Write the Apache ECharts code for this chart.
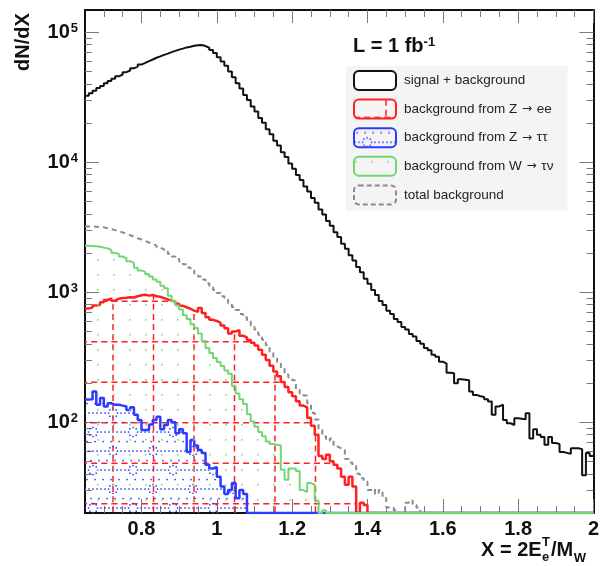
<!DOCTYPE html>
<html>
<head>
<meta charset="utf-8">
<script src="https://cdn.jsdelivr.net/npm/echarts@6/dist/echarts.min.js"></script>
<style>
  html, body { margin: 0; padding: 0; background: #fff; }
  #chart { width: 602px; height: 566px; }
</style>
</head>
<body>
<div id="chart"></div>
<script>
// Histogram binning: 135 bins of width 0.01 starting at X = 0.65
const BIN_LOW = 0.65;
const BIN_WIDTH = 0.01;
const X_MIN = 0.65, X_MAX = 2.0;
const Y_MIN = 20, Y_MAX = 148000;

const xMajorTicks = [0.8, 1.0, 1.2, 1.4, 1.6, 1.8, 2.0];
const xMinorTicks = [0.7, 0.75, 0.85, 0.9, 0.95, 1.05, 1.1, 1.15, 1.25, 1.3, 1.35, 1.45, 1.5, 1.55,
                     1.65, 1.7, 1.75, 1.85, 1.9, 1.95];
const yMajorTicks = [100, 1000, 10000, 100000];
const yMinorTicks = [30, 40, 50, 60, 70, 80, 90, 200, 300, 400, 500, 600, 700, 800, 900,
                     2000, 3000, 4000, 5000, 6000, 7000, 8000, 9000,
                     20000, 30000, 40000, 50000, 60000, 70000, 80000, 90000];

// Entries per bin (0 = empty bin, drawn on the lower frame edge)
const signalPlusBackground = [
  32400, 33900, 35400, 37200, 38600, 40500, 42000, 43800, 45700, 47200,
  49200, 50700, 52700, 54300, 56300, 58000, 59900, 61600, 63500, 65100,
  66900, 68400, 70200, 71700, 73400, 74700, 76300, 77300, 78600, 79300,
  79500, 78100, 75800, 72900, 69000, 64000, 59400, 55100, 49700, 45000,
  40500, 36800, 32900, 30100, 26800, 24500, 21900, 20100, 17900, 16400,
  14600, 13400, 11900, 10950, 9750, 8900, 7950, 7280, 6500, 5950,
  5300, 4860, 4330, 3960, 3520, 3240, 2890, 2650, 2360, 2160,
  1920, 1750, 1560, 1420, 1270, 1160, 1040, 950, 855, 795,
  720, 680, 622, 590, 540, 516, 476, 455, 420, 400,
  372, 358, 330, 318, 292, 282, 240, 238, 199, 214,
  212, 210, 172, 162, 158, 156, 150, 144, 114, 132,
  136, 104, 98, 95, 107, 106, 105, 117, 75, 88,
  80, 77, 67, 77, 69, 68, 59, 58, 57, 63,
  63, 62, 39, 58, 55
];
const bkgZee = [
  750, 760, 790, 800, 835, 870, 895, 860, 890, 900,
  905, 915, 910, 930, 945, 955, 940, 950, 930, 920,
  900, 880, 860, 845, 815, 785, 765, 745, 720, 705,
  755, 690, 640, 612, 600, 580, 555, 528, 480, 498,
  510, 462, 448, 428, 408, 388, 360, 330, 300, 272,
  245, 225, 204, 186, 170, 158, 145, 134, 130, 108,
  94, 80, 55, 52, 56, 50, 47, 44, 38, 33,
  38, 32, 0, 24, 23, 0, 0, 0, 0, 0,
  0, 0, 0, 0, 0, 0, 0, 0, 0, 0,
  0, 0, 0, 0, 0, 0, 0, 0, 0, 0,
  0, 0, 0, 0, 0, 0, 0, 0, 0, 0,
  0, 0, 0, 0, 0, 0, 0, 0, 0, 0,
  0, 0, 0, 0, 0, 0, 0, 0, 0, 0,
  0, 0, 0, 0, 0
];
const bkgZtautau = [
  149, 150, 172, 136, 153, 132, 140, 136, 136, 134,
  132, 124, 130, 114, 104, 87, 87, 96, 104, 110,
  88, 95, 104, 100, 82, 88, 82, 59, 73, 66,
  61, 58, 47, 44, 45, 38, 32, 28, 30, 34,
  26, 30, 28, 0, 0, 0, 0, 0, 0, 0,
  0, 0, 0, 0, 0, 0, 0, 0, 0, 0,
  0, 0, 0, 0, 0, 0, 0, 0, 0, 0,
  0, 0, 0, 0, 0, 0, 0, 0, 0, 0,
  0, 0, 0, 0, 0, 0, 0, 0, 0, 0,
  0, 0, 0, 0, 0, 0, 0, 0, 0, 0,
  0, 0, 0, 0, 0, 0, 0, 0, 0, 0,
  0, 0, 0, 0, 0, 0, 0, 0, 0, 0,
  0, 0, 0, 0, 0, 0, 0, 0, 0, 0,
  0, 0, 0, 0, 0
];
const bkgWtaunu = [
  2270, 2260, 2250, 2230, 2200, 2170, 2110, 2010, 1960, 1880,
  1820, 1730, 1680, 1540, 1470, 1430, 1380, 1320, 1250, 1200,
  1120, 1070, 940, 860, 790, 735, 665, 620, 565, 530,
  480, 420, 372, 340, 312, 290, 270, 250, 236, 190,
  166, 150, 138, 115, 101, 92, 84, 78, 71, 68,
  67, 66, 43, 36, 44, 44, 42, 30, 29, 34,
  33, 25, 0, 21, 0, 0, 0, 0, 0, 0,
  0, 0, 0, 0, 0, 0, 0, 0, 0, 0,
  0, 0, 0, 0, 0, 0, 0, 0, 0, 0,
  0, 0, 0, 0, 0, 0, 0, 0, 0, 0,
  0, 0, 0, 0, 0, 0, 0, 0, 0, 0,
  0, 0, 0, 0, 0, 0, 0, 0, 0, 0,
  0, 0, 0, 0, 0, 0, 0, 0, 0, 0,
  0, 0, 0, 0, 0
];
const totalBackground = [
  3200, 3200, 3190, 3170, 3150, 3100, 3050, 3000, 2940, 2880,
  2810, 2740, 2670, 2600, 2540, 2480, 2410, 2350, 2280, 2200,
  2130, 2050, 1970, 1880, 1800, 1720, 1640, 1550, 1470, 1390,
  1320, 1250, 1170, 1100, 1040, 985, 930, 875, 820, 770,
  730, 680, 640, 598, 555, 515, 470, 430, 390, 350,
  318, 290, 256, 232, 220, 210, 180, 166, 160, 140,
  118, 105, 87, 78, 72, 75, 65, 63, 62, 52,
  49, 46, 40, 37, 35, 30, 31, 28, 30, 26,
  22, 22, 21, 0, 0, 24, 25, 23, 22, 0,
  0, 0, 0, 0, 0, 0, 0, 0, 0, 0,
  0, 0, 0, 0, 0, 0, 0, 0, 0, 0,
  0, 0, 0, 0, 0, 0, 0, 0, 0, 0,
  0, 0, 0, 0, 0, 0, 0, 0, 0, 0,
  0, 0, 0, 0, 0
];

const NAME_SIG = 'signal + background';
const NAME_ZEE = 'background from Z \u2192 ee';
const NAME_ZTT = 'background from Z \u2192 \u03c4\u03c4';
const NAME_WTN = 'background from W \u2192 \u03c4\u03bd';
const NAME_TOT = 'total background';

const FONT = '"Liberation Sans", Arial, Helvetica, sans-serif';
const RED = '#ff2020', BLUE = '#2a3cff', GREEN = '#72d672', GRAY = '#8c8c8c', BLACK = '#111111';

// Step outline: one point per lower bin edge plus the closing upper edge.
function histPoints(vals) {
  const pts = vals.map((v, i) => [+(BIN_LOW + i * BIN_WIDTH).toFixed(2), Math.max(v, Y_MIN)]);
  pts.push([+(BIN_LOW + vals.length * BIN_WIDTH).toFixed(2), Math.max(vals[vals.length - 1], Y_MIN)]);
  return pts;
}

// Fill patterns (canvas tiles)
function tile(w, h, draw) {
  const c = document.createElement('canvas');
  c.width = w; c.height = h;
  draw(c.getContext('2d'), w, h);
  return { image: c, repeat: 'repeat' };
}
const hatchRed = tile(81, 81, (ctx, w, h) => {
  ctx.strokeStyle = RED; ctx.lineWidth = 1.5;
  ctx.setLineDash([6.1, 4.025]);
  [32, 72.5].forEach(x => { ctx.beginPath(); ctx.moveTo(x, 0); ctx.lineTo(x, h); ctx.stroke(); });
  [17.7, 58.2].forEach(y => { ctx.beginPath(); ctx.moveTo(0, y); ctx.lineTo(w, y); ctx.stroke(); });
});
const dotsBlue = tile(40, 38, (ctx, w, h) => {
  ctx.fillStyle = BLUE;
  const dot = (x, y) => {
    const xx = ((x % w) + w) % w, yy = ((y % h) + h) % h;
    ctx.fillRect(xx - 0.7, yy - 0.7, 1.5, 1.5);
  };
  [[33, 33], [13, 14]].forEach(([cx, cy]) => {
    for (let k = 0; k < 8; k++) {
      const a = k * Math.PI / 4;
      dot(cx + 4.5 * Math.cos(a), cy + 4.5 * Math.sin(a));
    }
    for (let dx = 8; dx <= 32; dx += 4) dot(cx + dx, cy);
    for (let dx = 2; dx < 40; dx += 8) dot(cx + dx, cy + 9.5);
  });
});
const dotsGreen = tile(16, 15, (ctx) => {
  ctx.fillStyle = '#86d886';
  ctx.fillRect(1, 4, 1.6, 1.6);
});

function measure(text, size) {
  const ctx = document.createElement('canvas').getContext('2d');
  ctx.font = 'bold ' + size + 'px ' + FONT;
  return ctx.measureText(text).width;
}

const tickLine = { color: '#7a7a7a', width: 1 };
const frameLine = { show: true, onZero: false, lineStyle: { color: BLACK, width: 2 } };

function xAxisDef(position, ticks, len, showLine, showLabel) {
  return {
    type: 'value', position, min: X_MIN, max: X_MAX,
    axisLine: showLine ? frameLine : { show: false },
    axisTick: { show: true, inside: true, length: len, customValues: ticks, lineStyle: tickLine },
    axisLabel: showLabel ? {
      show: true, customValues: xMajorTicks, margin: 6,
      formatter: v => String(+(+v).toFixed(2)),
      fontFamily: FONT, fontSize: 20, fontWeight: 'bold', color: BLACK
    } : { show: false },
    splitLine: { show: false }
  };
}
function yAxisDef(position, ticks, len, showLine, showLabel) {
  return {
    type: 'log', logBase: 10, position, min: Y_MIN, max: Y_MAX,
    axisLine: showLine ? frameLine : { show: false },
    axisTick: { show: true, inside: true, length: len, customValues: ticks, lineStyle: tickLine },
    axisLabel: showLabel ? {
      show: true, customValues: yMajorTicks, margin: 7,
      formatter: v => '10{sup|' + Math.round(Math.log10(v)) + '}',
      fontFamily: FONT, fontSize: 20, fontWeight: 'bold', color: BLACK,
      rich: { sup: { fontFamily: FONT, fontSize: 13, fontWeight: 'bold', color: BLACK, verticalAlign: 'top', padding: [0, 0, 0, 1] } }
    } : { show: false },
    splitLine: { show: false }
  };
}

function histSeries(name, vals, color, width, extra) {
  return Object.assign({
    name, type: 'line', step: 'end', data: histPoints(vals),
    xAxisIndex: 0, yAxisIndex: 0,
    symbol: 'none', showSymbol: false, clip: true, animation: false,
    lineStyle: { color, width },
    itemStyle: { color },
    emphasis: { disabled: true }
  }, extra || {});
}

// Axis title pieces
const titleX = 481, titleY = 550;
const wA = measure('X = 2E', 20), wT = measure('T', 13), wB = measure('/M', 20);
const txt = (x, y, text, size, extra) => Object.assign({
  type: 'text', x, y,
  style: { text, font: 'bold ' + size + 'px ' + FONT, fill: BLACK, align: 'left', verticalAlign: 'middle' }
}, extra || {});

const option = {
  backgroundColor: '#ffffff',
  animation: false,
  grid: { left: 85, right: 5, top: 10, bottom: 53, show: false },
  xAxis: [
    xAxisDef('bottom', xMajorTicks, 14, true, true),
    xAxisDef('bottom', xMinorTicks, 7, false, false),
    xAxisDef('top', xMajorTicks, 13, true, false),
    xAxisDef('top', xMinorTicks, 7, false, false)
  ],
  yAxis: [
    yAxisDef('left', yMajorTicks, 14, true, true),
    yAxisDef('left', yMinorTicks, 7, false, false),
    yAxisDef('right', yMajorTicks, 14, true, false),
    yAxisDef('right', yMinorTicks, 7, false, false)
  ],
  legend: {
    orient: 'vertical', left: 346, top: 66,
    padding: [4, 14, 5, 7],
    itemWidth: 42, itemHeight: 19, itemGap: 7.6,
    backgroundColor: '#f4f4f4',
    selectedMode: false,
    formatter: name => name.replace('\u2192', '{a|\u2192}'),
    textStyle: {
      fontFamily: FONT, fontSize: 13.5, color: '#222', padding: [0, 0, 0, 3],
      rich: { a: { fontFamily: '"DejaVu Sans", sans-serif', fontSize: 12, color: '#222', padding: [0, 1, 0, 1] } }
    },
    data: [
      { name: NAME_SIG, icon: 'roundRect', itemStyle: { color: '#ffffff', borderColor: BLACK, borderWidth: 2 } },
      { name: NAME_ZEE, icon: 'roundRect', itemStyle: { color: hatchRed, borderColor: RED, borderWidth: 2 } },
      { name: NAME_ZTT, icon: 'roundRect', itemStyle: { color: dotsBlue, borderColor: BLUE, borderWidth: 2 } },
      { name: NAME_WTN, icon: 'roundRect', itemStyle: { color: dotsGreen, borderColor: GREEN, borderWidth: 2 } },
      { name: NAME_TOT, icon: 'roundRect', itemStyle: { color: 'rgba(0,0,0,0)', borderColor: GRAY, borderWidth: 2, borderType: [5, 3] } }
    ]
  },
  graphic: [
    txt(23, 42, 'dN/dX', 20, { rotation: Math.PI / 2, style: { text: 'dN/dX', font: 'bold 20px ' + FONT, fill: BLACK, align: 'center', verticalAlign: 'middle' } }),
    {
      type: 'text', x: 353, y: 46,
      style: {
        text: '{b|L = 1 fb}{s|-1}', fill: BLACK, align: 'left', verticalAlign: 'middle',
        rich: {
          b: { fontSize: 20, fontWeight: 'bold', fontFamily: FONT, fill: BLACK },
          s: { fontSize: 13, fontWeight: 'bold', fontFamily: FONT, fill: BLACK, verticalAlign: 'top' }
        }
      }
    },
    txt(titleX, titleY, 'X = 2E', 20),
    txt(titleX + wA + 0.5, titleY - 8, 'T', 13),
    txt(titleX + wA + 0.5, titleY + 7, 'e', 13),
    txt(titleX + wA + wT + 1.5, titleY, '/M', 20),
    txt(titleX + wA + wT + 1.5 + wB + 0.5, titleY + 8, 'W', 13)
  ],
  series: [
    histSeries(NAME_SIG, signalPlusBackground, BLACK, 2, { z: 3 }),
    histSeries(NAME_ZEE, bkgZee, RED, 2.5, { z: 4, areaStyle: { color: hatchRed, origin: 'start', opacity: 1 } }),
    histSeries(NAME_ZTT, bkgZtautau, BLUE, 2.5, { z: 5, areaStyle: { color: dotsBlue, origin: 'start', opacity: 1 } }),
    histSeries(NAME_TOT, totalBackground, GRAY, 2, { z: 6, lineStyle: { color: GRAY, width: 2, type: [5, 4] } }),
    histSeries(NAME_WTN, bkgWtaunu, GREEN, 2, { z: 7, areaStyle: { color: dotsGreen, origin: 'start', opacity: 1 } })
  ]
};

const chart = echarts.init(document.getElementById('chart'), null, { renderer: 'canvas', width: 602, height: 566 });
chart.setOption(option);
</script>
</body>
</html>
